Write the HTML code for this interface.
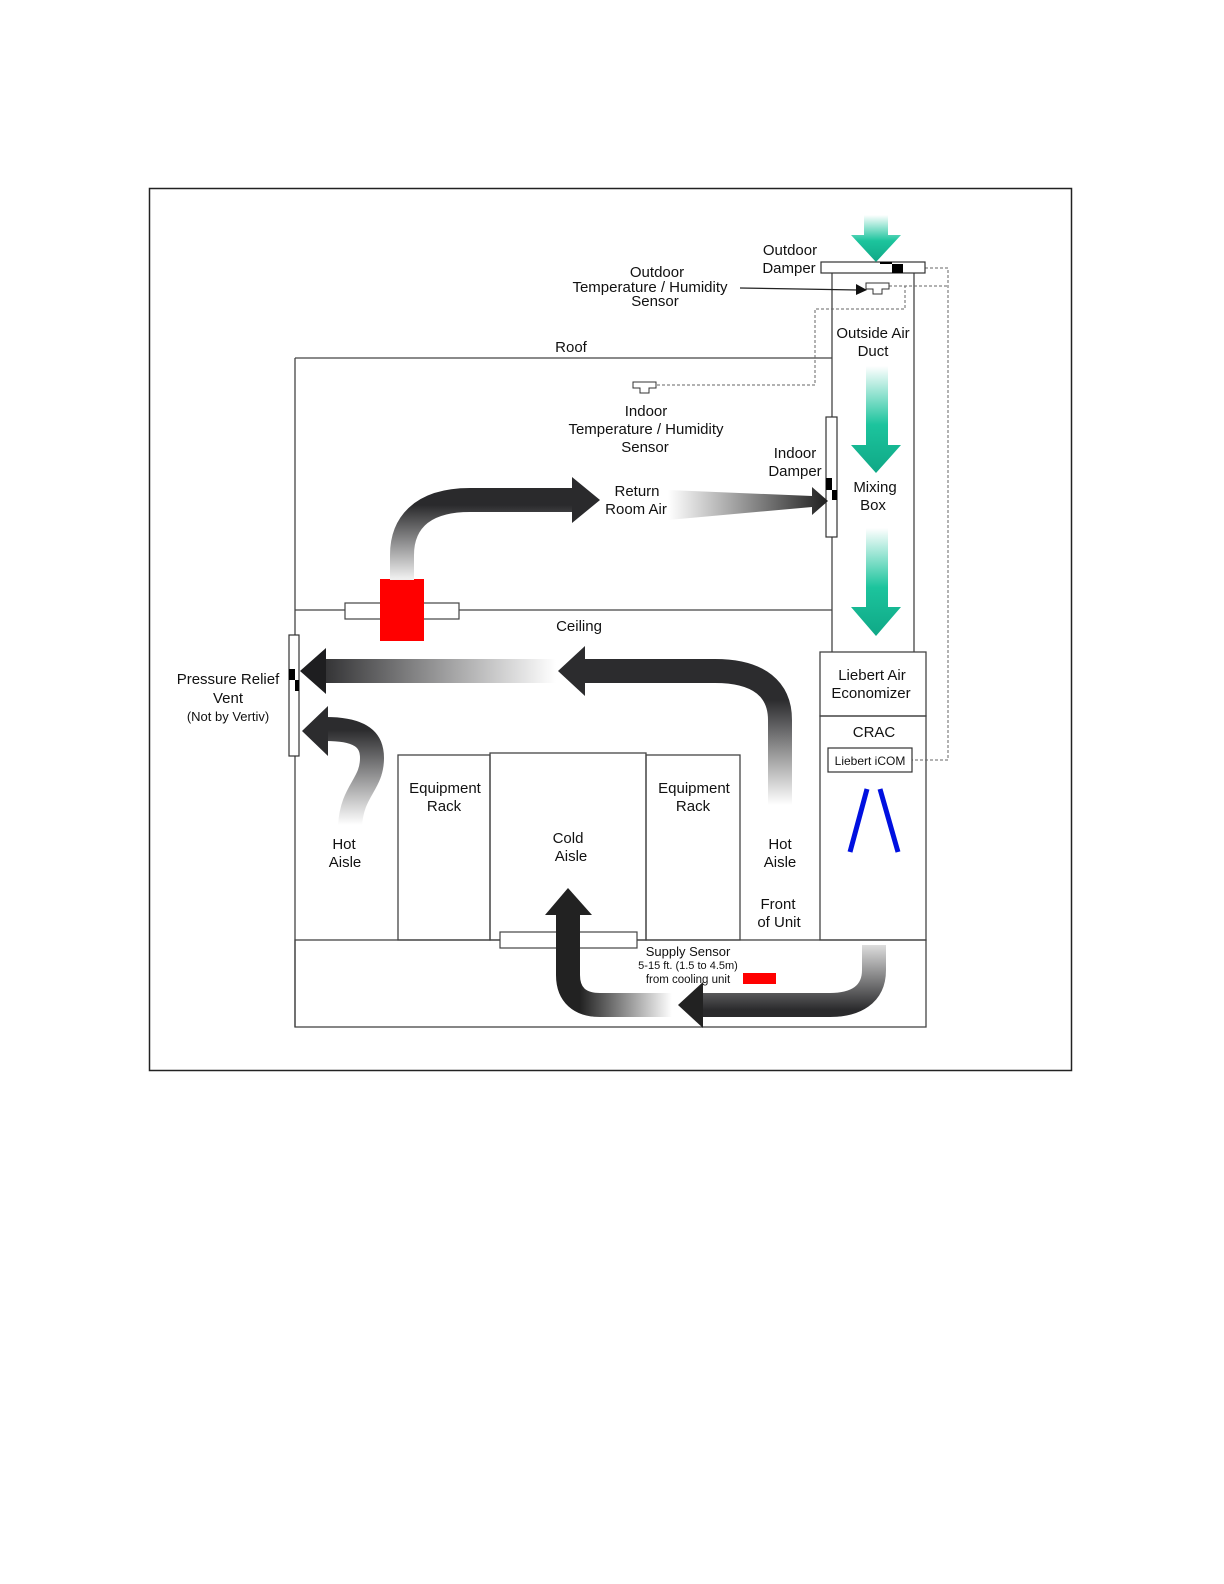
<!DOCTYPE html>
<html><head><meta charset="utf-8"><style>
html,body{margin:0;padding:0;background:#fff;width:1224px;height:1584px;overflow:hidden}
svg{display:block}
text{font-family:"Liberation Sans","DejaVu Sans",sans-serif;fill:#111;font-size:15px;text-anchor:middle}
</style></head><body>
<svg width="1224" height="1584" viewBox="0 0 1224 1584" xmlns="http://www.w3.org/2000/svg">
<defs>
<linearGradient id="gG" x1="0" y1="0" x2="0" y2="1"><stop offset="0" stop-color="#fff"/><stop offset="0.55" stop-color="#1cc49d"/><stop offset="1" stop-color="#0fa886"/></linearGradient>
<linearGradient id="a1" gradientUnits="userSpaceOnUse" x1="0" y1="578" x2="0" y2="505"><stop offset="0" stop-color="#eee"/><stop offset="1" stop-color="#2a2a2c"/></linearGradient>
<linearGradient id="a2" gradientUnits="userSpaceOnUse" x1="668" y1="0" x2="826" y2="0"><stop offset="0" stop-color="#fff"/><stop offset="1" stop-color="#222"/></linearGradient>
<linearGradient id="a3" gradientUnits="userSpaceOnUse" x1="0" y1="805" x2="0" y2="700"><stop offset="0" stop-color="#fff"/><stop offset="1" stop-color="#2c2c2e"/></linearGradient>
<linearGradient id="a4" gradientUnits="userSpaceOnUse" x1="300" y1="0" x2="556" y2="0"><stop offset="0" stop-color="#1e1e20"/><stop offset="1" stop-color="#fff"/></linearGradient>
<linearGradient id="a5" gradientUnits="userSpaceOnUse" x1="0" y1="825" x2="0" y2="730"><stop offset="0" stop-color="#fff"/><stop offset="1" stop-color="#2c2c2e"/></linearGradient>
<linearGradient id="a6" gradientUnits="userSpaceOnUse" x1="0" y1="945" x2="0" y2="1010"><stop offset="0" stop-color="#ddd"/><stop offset="1" stop-color="#2a2a2c"/></linearGradient>
<linearGradient id="a7" gradientUnits="userSpaceOnUse" x1="672" y1="0" x2="580" y2="0"><stop offset="0" stop-color="#fff"/><stop offset="1" stop-color="#222"/></linearGradient>
</defs>
<rect x="149.5" y="188.5" width="922" height="882" fill="none" stroke="#222" stroke-width="1.5"/>
<g stroke="#444" stroke-width="1.3" fill="none">
<line x1="295" y1="358" x2="832" y2="358"/>
<line x1="295" y1="358" x2="295" y2="1027"/>
<line x1="295" y1="610" x2="832" y2="610"/>
<line x1="832" y1="273" x2="832" y2="652"/>
<line x1="914" y1="273" x2="914" y2="652"/>
<rect x="295" y="940" width="631" height="87"/>
<rect x="820" y="652" width="106" height="64"/>
<rect x="820" y="716" width="106" height="224"/>
<rect x="398" y="755" width="92" height="185"/>
<rect x="490" y="753" width="156" height="187"/>
<rect x="646" y="755" width="94" height="185"/>
</g>
<!-- dotted lines -->
<g stroke="#666" stroke-width="1" fill="none" stroke-dasharray="3,2">
<polyline points="925,268 948,268 948,760 912,760"/>
<polyline points="889,286 948,286"/>
<polyline points="889,286 905,286 905,309 815,309 815,385 657,385"/>
</g>
<!-- outdoor damper -->
<rect x="821" y="262" width="104" height="11" fill="#fff" stroke="#333" stroke-width="1.2"/>
<rect x="892" y="264" width="11" height="9" fill="#000"/>
<rect x="880" y="262" width="12" height="2" fill="#000"/>
<!-- sensors -->
<path d="M866,283 h23 v6 h-7 v5 h-9 v-5 h-7 z" fill="#fff" stroke="#333" stroke-width="1"/>
<path d="M633,382 h23 v6 h-7 v5 h-9 v-5 h-7 z" fill="#fff" stroke="#333" stroke-width="1"/>
<line x1="740" y1="288" x2="858" y2="290" stroke="#222" stroke-width="1.2"/>
<polygon points="856,284 867,290 856,295" fill="#111"/>
<!-- green arrows -->
<g fill="url(#gG)">
<polygon points="864,215 888,215 888,235 901,235 876,262 851,235 864,235"/>
<polygon points="866,366 888,366 888,445 901,445 876,473 851,445 866,445"/>
<polygon points="866,528 888,528 888,607 901,607 876,636 851,607 866,607"/>
</g>
<!-- indoor damper -->
<rect x="826" y="417" width="11" height="120" fill="#fff" stroke="#333" stroke-width="1.2"/>
<rect x="826" y="478" width="6" height="12" fill="#000"/><rect x="832" y="490" width="5" height="10" fill="#000"/>
<!-- pressure vent -->
<rect x="289" y="635" width="10" height="121" fill="#fff" stroke="#333" stroke-width="1.2"/>
<rect x="289" y="669" width="6" height="11" fill="#000"/><rect x="295" y="680" width="4" height="11" fill="#000"/>
<!-- ceiling tile + red -->
<rect x="345" y="603" width="114" height="16" fill="#fff" stroke="#444" stroke-width="1.2"/>
<rect x="380" y="579" width="44" height="62" fill="#f00"/>
<!-- floor tile -->
<rect x="500" y="932" width="137" height="16" fill="#fff" stroke="#444" stroke-width="1.2"/>
<!-- dark arrows -->
<path d="M402,580 V555 C402,525 420,500 470,500 H574" fill="none" stroke="url(#a1)" stroke-width="24"/>
<polygon points="572,477 600,500 572,523" fill="#2a2a2c"/>
<polygon points="668,490 812,496 812,487 828,501 812,515 812,507 668,520" fill="url(#a2)"/>
<path d="M780,806 V720 C780,690 760,671 715,671 H583" fill="none" stroke="url(#a3)" stroke-width="24"/>
<polygon points="585,646 558,671 585,696" fill="#2c2c2e"/>
<rect x="322" y="659" width="234" height="24" fill="url(#a4)"/>
<polygon points="326,648 300,671 326,694" fill="#1e1e20"/>
<path d="M350,826 C352,790 372,785 372,758 C372,738 358,729 326,729" fill="none" stroke="url(#a5)" stroke-width="24"/>
<polygon points="328,706 302,731 328,756" fill="#2c2c2e"/>
<path d="M874,945 V970 C874,995 855,1005 830,1005 H700" fill="none" stroke="url(#a6)" stroke-width="24"/>
<polygon points="703,982 678,1005 703,1028" fill="#222"/>
<path d="M672,1005 H600 C580,1005 568,995 568,975 V912" fill="none" stroke="url(#a7)" stroke-width="24"/>
<polygon points="545,915 568,888 592,915" fill="#222"/>
<!-- iCOM + blue -->
<rect x="828" y="748" width="84" height="24" fill="#fff" stroke="#333" stroke-width="1.2"/>
<line x1="850" y1="852" x2="867" y2="789" stroke="#0010e0" stroke-width="5"/>
<line x1="880" y1="789" x2="898" y2="852" stroke="#0010e0" stroke-width="5"/>
<rect x="743" y="973" width="33" height="11" fill="#f00"/>
<!-- text -->
<text x="790" y="255">Outdoor</text>
<text x="789" y="273">Damper</text>
<text x="657" y="277">Outdoor</text>
<text x="650" y="292">Temperature / Humidity</text>
<text x="655" y="306">Sensor</text>
<text x="873" y="338">Outside Air</text>
<text x="873" y="356">Duct</text>
<text x="571" y="352">Roof</text>
<text x="646" y="416">Indoor</text>
<text x="646" y="434">Temperature / Humidity</text>
<text x="645" y="452">Sensor</text>
<text x="795" y="458">Indoor</text>
<text x="795" y="476">Damper</text>
<text x="637" y="496">Return</text>
<text x="636" y="514">Room Air</text>
<text x="875" y="492">Mixing</text>
<text x="873" y="510">Box</text>
<text x="579" y="631">Ceiling</text>
<text x="872" y="680">Liebert Air</text>
<text x="871" y="698">Economizer</text>
<text x="874" y="737">CRAC</text>
<text x="870" y="765" style="font-size:12px">Liebert iCOM</text>
<text x="228" y="684">Pressure Relief</text>
<text x="228" y="703">Vent</text>
<text x="228" y="721" style="font-size:13px">(Not by Vertiv)</text>
<text x="445" y="793">Equipment</text>
<text x="444" y="811">Rack</text>
<text x="694" y="793">Equipment</text>
<text x="693" y="811">Rack</text>
<text x="568" y="843">Cold</text>
<text x="571" y="861">Aisle</text>
<text x="344" y="849">Hot</text>
<text x="345" y="867">Aisle</text>
<text x="780" y="849">Hot</text>
<text x="780" y="867">Aisle</text>
<text x="778" y="909">Front</text>
<text x="779" y="927">of Unit</text>
<text x="688" y="956" style="font-size:13px">Supply Sensor</text>
<text x="688" y="969" style="font-size:11px">5-15 ft. (1.5 to 4.5m)</text>
<text x="688" y="983" style="font-size:11.5px">from cooling unit</text>
</svg>
</body></html>
